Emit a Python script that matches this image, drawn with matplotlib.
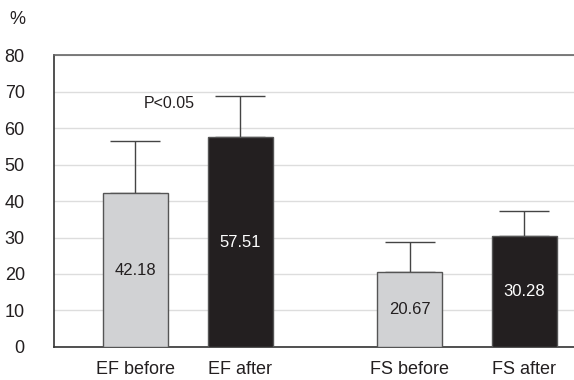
import matplotlib
matplotlib.use('Agg')
import matplotlib.pyplot as plt

plt.rcParams['font.family'] = ['Liberation Sans', 'DejaVu Sans']

# data
labels = ['EF before', 'EF after', 'FS before', 'FS after']
means = [42.18, 57.51, 20.67, 30.28]
upper_err = [14.4, 11.2, 8.1, 7.1]
positions = [0, 1, 2.61, 3.70]
bar_colors = ['#d1d2d4', '#231f20', '#d1d2d4', '#231f20']
text_colors = ['#231f20', 'white', '#231f20', 'white']
yticks = [0, 10, 20, 30, 40, 50, 60, 70, 80]

fig = plt.figure(figsize=(5.74, 3.80), dpi=100)
ax = fig.add_axes([0.094, 0.087, 0.92, 0.768])

ax.bar(positions, means, width=0.62, color=bar_colors, edgecolor='#555555',
       linewidth=1.0, zorder=3)
ax.errorbar(positions, means, yerr=[[0] * 4, upper_err], fmt='none',
            ecolor='#444444', elinewidth=1.0, capsize=18, capthick=1.0, zorder=2)

for x, v, c in zip(positions, means, text_colors):
    ax.text(x, v / 2, '%.2f' % v, ha='center', va='center', color=c,
            fontsize=12, zorder=4)

ax.text(0.32, 66.6, 'P<0.05', ha='center', va='center', fontsize=11.5, color='#231f20')
fig.text(0.016, 0.95, '%', fontsize=13, color='#231f20', ha='left', va='center')

ax.set_xlim(-0.773, 4.25)
ax.set_ylim(0, 80)
ax.set_yticks(yticks)
ax.set_xticks(positions)
ax.set_xticklabels(labels, fontsize=13, color='#231f20')
ax.tick_params(axis='y', labelsize=13, colors='#231f20', length=0, pad=21)
ax.tick_params(axis='x', length=0, pad=10)
ax.yaxis.grid(True, color='#dddddd', linewidth=1.0, zorder=0)
ax.set_axisbelow(True)

for s in ['left', 'bottom']:
    ax.spines[s].set_color('#333333')
    ax.spines[s].set_linewidth(1.2)
ax.spines['top'].set_color('#666666')
ax.spines['top'].set_linewidth(1.2)
ax.spines['right'].set_visible(False)

plt.savefig('out.png', dpi=100)
